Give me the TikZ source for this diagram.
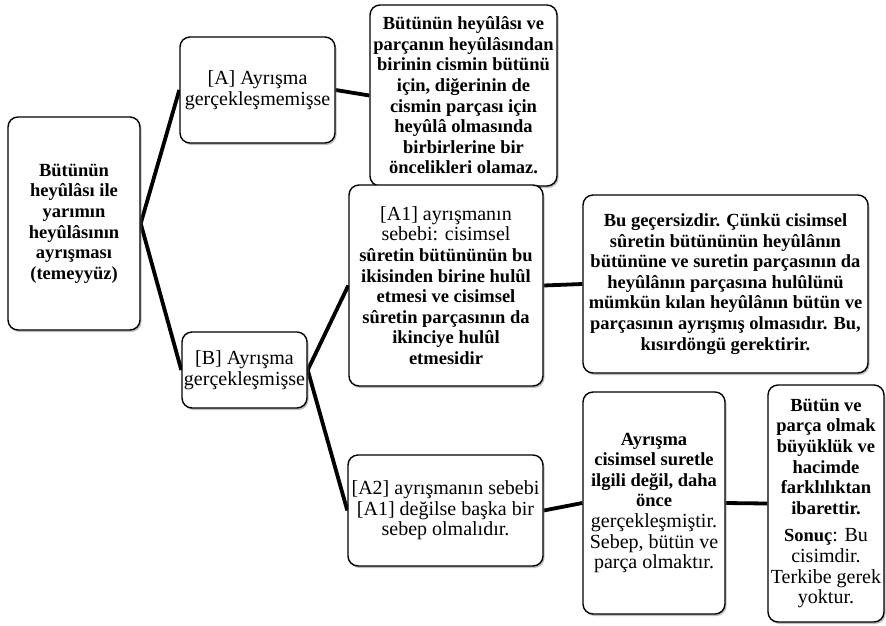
\documentclass[tikz,border=0pt]{standalone}
\usepackage{fontspec}
\setmainfont{Liberation Serif}
\usetikzlibrary{shadows,backgrounds}
\newcommand{\kalin}{\fontsize{18.5}{20.6}\selectfont\bfseries}
\tikzset{
	kutunode/.style={rectangle, draw=black, line width=1.4pt, rounded corners=10pt, fill=white, align=center, inner sep=0pt, font=\fontsize{20}{20.6}\selectfont, drop shadow={shadow xshift=1.5pt, shadow yshift=-2pt, opacity=0.5}},
	baglanti/.style={line width=3.8pt, line join=miter}
}

\begin{document}
\begin{tikzpicture}[x=1pt,y=-1pt]
			\useasboundingbox (0,0) rectangle (886,625);
			
			\node[kutunode, minimum width=132pt, minimum height=213pt] (kok) at (74,223.5) {\kalin Bütünün\\\kalin heyûlâsı ile\\\kalin yarımın\\\kalin heyûlâsının\\\kalin ayrışması\\\kalin (temeyyüz)};
			\node[kutunode, minimum width=155pt, minimum height=106pt] (a) at (257.5,90) {[A] Ayrışma\\gerçekleşmemişse};
			\node[kutunode, minimum width=187pt, minimum height=181pt] (asonuc) at (463.5,95.5) {\kalin Bütünün heyûlâsı ve\\\kalin parçanın heyûlâsından\\\kalin birinin cismin bütünü\\\kalin için, diğerinin de\\\kalin cismin parçası için\\\kalin heyûlâ olmasında\\\kalin birbirlerine bir\\\kalin öncelikleri olamaz.};
			\node[kutunode, minimum width=125pt, minimum height=76pt] (b) at (244.5,370) {[B] Ayrışma\\gerçekleşmişse};
			\node[kutunode, minimum width=194pt, minimum height=201pt] (aa) at (446,285.5) {[A1] ayrışmanın\\sebebi: cisimsel\\\kalin sûretin bütününün bu\\\kalin ikisinden birine hulûl\\\kalin etmesi ve cisimsel\\\kalin sûretin parçasının da\\\kalin ikinciye hulûl\\\kalin etmesidir};
			\node[kutunode, minimum width=285pt, minimum height=178pt] (gecersiz) at (725.5,284) {\kalin Bu geçersizdir. Çünkü cisimsel\\\kalin sûretin bütününün heyûlânın\\\kalin bütününe ve suretin parçasının da\\\kalin heyûlânın parçasına hulûlünü\\\kalin mümkün kılan heyûlânın bütün ve\\\kalin parçasının ayrışmış olmasıdır. Bu,\\\kalin kısırdöngü gerektirir.};
			\node[kutunode, minimum width=195pt, minimum height=111pt] (ab) at (445.5,510.5) {[A2] ayrışmanın sebebi\\{[A1]} değilse başka bir\\sebep olmalıdır.};
			\node[kutunode, minimum width=142pt, minimum height=222pt] (ayrisma) at (654,503) {\kalin Ayrışma\\\kalin cisimsel suretle\\\kalin ilgili değil, daha\\\kalin önce\\gerçekleşmiştir.\\Sebep, bütün ve\\parça olmaktır.};
			\node[kutunode, minimum width=116pt, minimum height=237pt] (sonuc) at (826,503.5) {\kalin Bütün ve\\\kalin parça olmak\\\kalin büyüklük ve\\\kalin hacimde\\\kalin farklılıktan\\\kalin ibarettir.\\[7pt]{\kalin Sonuç}: Bu\\cisimdir.\\Terkibe gerek\\yoktur.};
			
			% baglantilar
			\begin{scope}[on background layer]
				\draw[baglanti] (a.west) -- (kok.east) -- (b.west);
				\draw[baglanti] (a.east) -- (asonuc.west);
				\draw[baglanti] (aa.west) -- (b.east) -- (ab.west);
				\draw[baglanti] (aa.east) -- (gecersiz.west);
				\draw[baglanti] (ab.east) -- (ayrisma.west);
				\draw[baglanti] (ayrisma.east) -- (sonuc.west);
			\end{scope}
		\end{tikzpicture}
\end{document}
